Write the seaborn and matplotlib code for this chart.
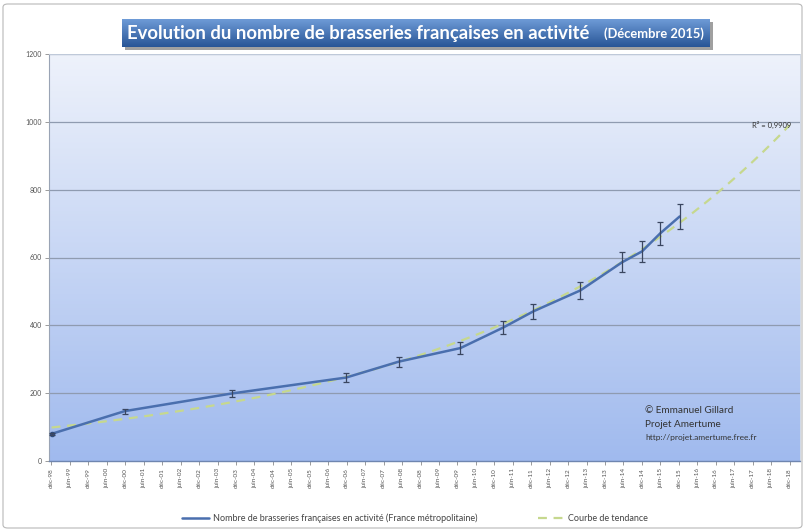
import numpy as np
import matplotlib
matplotlib.use("Agg")
import matplotlib.pyplot as plt
import seaborn as sns
from matplotlib.lines import Line2D
from matplotlib.patches import FancyBboxPatch

# --- DATA ---
dates = [1998.92, 2000.90, 2003.80, 2006.90, 2008.33, 2010.00, 2011.15,
         2011.97, 2013.25, 2014.38, 2014.92, 2015.41, 2015.94]
breweries = [80, 147, 199, 246, 293, 333, 393, 441, 503, 586, 618, 671, 721]
err_ratio = 0.05

tick_labels = ['déc-98', 'juin-99', 'déc-99', 'juin-00', 'déc-00', 'juin-01',
               'déc-01', 'juin-02', 'déc-02', 'juin-03', 'déc-03', 'juin-04',
               'déc-04', 'juin-05', 'déc-05', 'juin-06', 'déc-06', 'juin-07',
               'déc-07', 'juin-08', 'déc-08', 'juin-09', 'déc-09', 'juin-10',
               'déc-10', 'juin-11', 'déc-11', 'juin-12', 'déc-12', 'juin-13',
               'déc-13', 'juin-14', 'déc-14', 'juin-15', 'déc-15', 'juin-16',
               'déc-16', 'juin-17', 'déc-17', 'juin-18', 'déc-18']
y_ticks = [0, 200, 400, 600, 800, 1000, 1200]

series_label = 'Nombre de brasseries françaises en activité (France métropolitaine)'
trend_label = 'Courbe de tendance'

sns.set_style("white")
plt.rcParams['font.family'] = ['Lato', 'DejaVu Sans']

W, H = 806, 531
fig = plt.figure(figsize=(W / 100, H / 100), dpi=100)

# outer frame
fig.patches.append(FancyBboxPatch((3 / W, 3 / H), 799 / W, 524 / H,
                                  boxstyle="round,pad=0,rounding_size=0.006",
                                  transform=fig.transFigure, fill=False,
                                  edgecolor='#b8b8b8', linewidth=0.8))

ax = fig.add_axes([49 / W, 1 - 461 / H, 751 / W, 407 / H])
x0, x1 = 1998.85, 2019.2
ax.set_xlim(x0, x1)
ax.set_ylim(0, 1200)

# gradient background of the plot area
grad = np.linspace(0, 1, 256).reshape(-1, 1)
top_c = np.array([238, 242, 251]) / 255
bot_c = np.array([160, 186, 238]) / 255
img = top_c * (1 - grad[..., None]) + bot_c * grad[..., None]
ax.imshow(img, extent=[x0, x1, 0, 1200], aspect='auto', origin='upper', zorder=0)

for v in y_ticks[1:]:
    ax.axhline(v, color='#8f9bb0', linewidth=0.9, zorder=1)

# trend curve (exponential fit, like the spreadsheet trendline)
xd = np.array(dates) - 1998
coef = np.polyfit(xd, np.log(breweries), 1)
xt = np.linspace(dates[0], 2018.92, 200)
yt = np.exp(np.polyval(coef, xt - 1998))
ax.plot(xt, yt, linestyle=(0, (4, 3)), color='#c6d88e', linewidth=1.6, zorder=2)

# main series
sns.lineplot(x=dates, y=breweries, ax=ax, color='#4a6fae', linewidth=1.8, zorder=3)
ax.plot(dates[0], breweries[0], 'o', color='#2f4e80', markersize=3, zorder=4)
ax.errorbar(dates, breweries, yerr=[b * err_ratio for b in breweries], fmt='none',
            ecolor='#3a4660', elinewidth=0.9, capsize=2.2, capthick=0.9, zorder=4)

ax.text(2018.42, 990, 'R² = 0,9909', fontsize=5.5, color='#333333', ha='center',
        va='center', zorder=5)

ax.text(2015.0, 150, '© Emmanuel Gillard', fontsize=7.2, color='#333333',
        va='center', zorder=5)
ax.text(2015.0, 109, 'Projet Amertume', fontsize=7.2, color='#333333',
        va='center', zorder=5)
ax.text(2015.0, 68, 'http://projet.amertume.free.fr', fontsize=6.0, color='#333333',
        va='center', zorder=5)

ticks_x = [1998.917 + 0.5 * k for k in range(len(tick_labels))]
ax.set_xticks(ticks_x)
ax.set_xticklabels(tick_labels, rotation=90, fontsize=4.6, color='#555555')
ax.set_yticks(y_ticks)
ax.set_yticklabels([str(v) for v in y_ticks], fontsize=5, color='#555555')
ax.tick_params(axis='both', which='major', direction='out', length=3, width=0.6,
               color='#8a8a8a', pad=2, bottom=True, left=True)
ax.set_xlabel('')
ax.set_ylabel('')
for side in ['top', 'right']:
    ax.spines[side].set_color('#c9d2e2')
    ax.spines[side].set_linewidth(0.6)
ax.spines['left'].set_color('#9aa4b5')
ax.spines['bottom'].set_color('#6f86b0')
ax.spines['bottom'].set_linewidth(1.0)

# legend at the bottom
handles = [Line2D([], [], color='#4a6fae', linewidth=1.8),
           Line2D([], [], color='#c6d88e', linewidth=1.6, linestyle=(0, (4, 3)))]
fig.legend(handles, [series_label, trend_label], loc='center',
           bbox_to_anchor=(0.515, 1 - 518 / H), ncol=2, frameon=False,
           fontsize=6.5, handlelength=3, handletextpad=0.4, columnspacing=6.7,
           labelcolor='#444444')

# title box with gradient and a shadow
sax = fig.add_axes([125 / W, 1 - 50 / H, 588 / W, 28 / H])
sax.set_facecolor('#a0a0a0')
sax.set_xticks([])
sax.set_yticks([])
for s in sax.spines.values():
    s.set_visible(False)
sax.set_zorder(4)

tax = fig.add_axes([122 / W, 1 - 47 / H, 588 / W, 28 / H])
tax.set_zorder(5)
tgrad = np.linspace(0, 1, 64).reshape(-1, 1)
t_top = np.array([110, 155, 215]) / 255
t_bot = np.array([40, 85, 150]) / 255
timg = t_top * (1 - tgrad[..., None]) + t_bot * tgrad[..., None]
tax.imshow(timg, extent=[0, 1, 0, 1], aspect='auto', origin='upper')
tax.set_axis_off()
tax.text(0.009, 0.5, 'Evolution du nombre de brasseries françaises en activité',
         transform=tax.transAxes, fontsize=13.3, fontweight='bold', color='white',
         ha='left', va='center')
tax.text(0.99, 0.47, '(Décembre 2015)', transform=tax.transAxes, fontsize=9.3,
         fontweight='bold', color='white', ha='right', va='center')

fig.savefig('out.png', dpi=100)
